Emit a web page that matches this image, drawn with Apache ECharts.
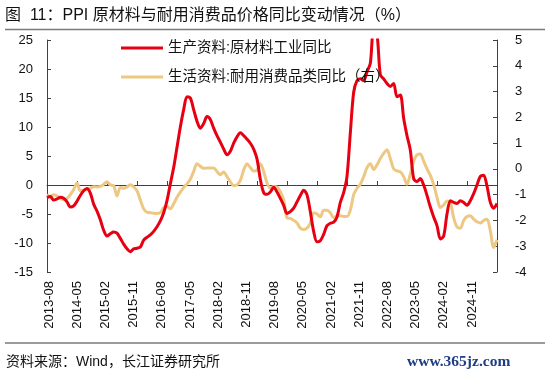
<!DOCTYPE html>
<html>
<head>
<meta charset="utf-8">
<script src="https://cdn.jsdelivr.net/npm/echarts@6/dist/echarts.min.js"></script>
<style>
html,body{margin:0;padding:0;background:#fff;}
#c{width:550px;height:381px;}
</style>
</head>
<body>
<div id="c"></div>
<script>
// ---- data ----
const startYear = 2013, startMonth = 8, monthCount = 136;
const months = [];
for (let k = 0; k < monthCount; k++) {
  const t = startMonth - 1 + k;
  const y = startYear + Math.floor(t / 12), m = t % 12 + 1;
  months.push(y + '-' + (m < 10 ? '0' + m : m));
}
const tickLabels = ['2013-08','2014-05','2015-02','2015-11','2016-08','2017-05','2018-02','2018-11','2019-08','2020-05','2021-02','2021-11','2022-08','2023-05','2024-02','2024-11'];

const seriesNames = ['生产资料:原材料工业同比', '生活资料:耐用消费品类同比（右）'];

// 生产资料:原材料工业同比 (left axis, %)
const rawMaterial = [
  -2.2, -2.0, -2.6, -2.4, -2.1, -2.3, -2.9, -3.8, -3.6, -2.8,
  -1.8, -1.0, -0.6, -1.4, -3.3, -4.5, -6.0, -7.8, -8.8, -8.4,
  -8.1, -8.3, -9.2, -10.2, -11.0, -11.5, -11.0, -10.9, -10.7, -9.5,
  -9.0, -8.6, -8.0, -7.2, -6.2, -4.8, -2.7, 0.2, 3.0, 6.5,
  10.0, 13.0, 15.2, 15.0, 13.0, 11.0, 9.8, 10.6, 11.8, 11.3,
  9.8, 8.5, 7.4, 6.2, 5.2, 5.8, 7.2, 8.3, 9.0, 8.5,
  7.9, 7.2, 6.2, 4.5, 1.0, -1.3, -1.6, -1.2, -0.4, -1.2,
  -2.3, -3.5, -4.9, -4.6, -4.0, -2.9, -1.8, -0.9, -1.7, -4.6,
  -8.0, -9.8, -9.6, -8.5, -7.0, -6.6, -6.4, -5.5, -3.0, -1.3,
  1.5, 9.0, 16.0, 18.0, 18.3, 18.0, 19.5, 21.0, 27.0, 26.0,
  19.0, 18.3, 17.5, 17.0, 17.5, 15.2, 15.5, 11.5, 8.5, 6.0,
  1.1, 0.6, 1.1, 0.0, -1.8, -3.8, -5.5, -7.0, -9.3, -8.8,
  -5.0, -2.7, -3.0, -3.2, -2.7, -3.0, -3.5, -2.7, -1.5, 0.0,
  1.5, 1.7, -0.2, -3.0, -4.0, -3.2
];

// 生活资料:耐用消费品类同比 (right axis, %)
const durableGoods = [
  -1.0, -1.07, -1.0, -1.05, -1.14, -1.2, -1.15, -1.0, -0.8, -0.55,
  -0.85, -0.82, -0.8, -0.75, -0.69, -0.7, -0.68, -0.6, -0.5, -0.62,
  -0.65, -1.05, -0.72, -0.75, -0.7, -0.62, -0.7, -0.85, -1.2, -1.55,
  -1.68, -1.7, -1.72, -1.73, -1.7, -1.5, -1.45, -1.55, -1.35, -1.1,
  -0.9, -0.72, -0.58, -0.4, -0.1, 0.2, 0.1, 0.02, 0.03, 0.03,
  0.03, -0.1, -0.23, -0.12, -0.3, -0.5, -0.65, -0.62, -0.45, -0.05,
  0.2, 0.05, -0.08, -0.05, 0.2, -0.1, -0.55, -0.75, -0.68, -0.7,
  -0.88, -1.2, -1.9, -1.92, -2.0, -2.1, -2.3, -2.35, -2.3, -2.1,
  -1.7, -1.75, -1.86, -1.6, -1.6, -1.7, -1.9, -1.82, -1.82, -1.85,
  -1.85, -1.6, -1.0, -0.75, -0.6, -0.3, 0.05, 0.2, -0.02, 0.15,
  0.4, 0.6, 0.74, 0.4, 0.0, -0.08, -0.12, -0.3, -0.6, -0.2,
  0.3, 0.55, 0.58, 0.3, 0.0, -0.25, -0.6, -1.1, -1.5, -1.4,
  -1.25, -1.3, -1.9, -2.25, -2.3, -2.0, -1.85, -1.82, -1.95, -2.05,
  -2.1, -2.0, -1.95, -2.4, -3.05, -2.75
];

// ---- chart ----
const FONT = "'Liberation Sans', 'Noto Sans CJK SC', sans-serif";
const chart = echarts.init(document.getElementById('c'), null, {renderer: 'canvas'});
const axisColor = '#404040';

chart.setOption({
  animation: false,
  backgroundColor: '#fff',
  textStyle: {fontFamily: FONT},
  title: [
    {text: '图  11：PPI 原材料与耐用消费品价格同比变动情况（%）', left: 5, top: 8, padding: 0,
     textStyle: {fontSize: 16, fontWeight: 'normal', color: '#111', fontFamily: FONT}},
    {text: '资料来源：Wind，长江证券研究所', left: 6, top: 355, padding: 0,
     textStyle: {fontSize: 14, fontWeight: 'normal', color: '#111', fontFamily: FONT}},
    {text: 'www.365jz.com', left: 407, top: 354, padding: 0,
     textStyle: {fontSize: 15.5, fontWeight: 'bold', color: '#1f3c88', fontFamily: "'Liberation Serif', serif"}}
  ],
  graphic: [
    {type: 'line', shape: {x1: 5, y1: 29.5, x2: 545, y2: 29.5}, style: {stroke: '#7a7a7a', lineWidth: 1.5}},
    {type: 'line', shape: {x1: 5, y1: 343, x2: 545, y2: 343}, style: {stroke: '#7a7a7a', lineWidth: 1.5}}
  ],
  legend: {
    data: seriesNames, orient: 'vertical', left: 121, top: 40, padding: 0,
    icon: 'rect', itemWidth: 42, itemHeight: 3, itemGap: 13,
    textStyle: {fontSize: 14.5, lineHeight: 16, color: '#111', fontFamily: FONT}
  },
  grid: [
    {left: 47, right: 53, top: 40, bottom: 109, containLabel: false},
    {left: 49, right: 78, top: 40, bottom: 109, containLabel: false}
  ],
  xAxis: [
    {
      type: 'category', gridIndex: 0, data: months, boundaryGap: false,
      axisLine: {show: true, onZero: true, lineStyle: {color: axisColor, width: 1}},
      axisTick: {show: true, inside: true, length: 4, interval: 8, lineStyle: {color: axisColor}},
      axisLabel: {show: false},
      splitLine: {show: false}
    },
    {
      type: 'category', gridIndex: 1, data: tickLabels, boundaryGap: false,
      axisLine: {show: false}, axisTick: {show: false},
      axisLabel: {show: true, interval: 0, rotate: 90, margin: 9, fontSize: 13, color: '#111', fontFamily: FONT},
      splitLine: {show: false}
    }
  ],
  yAxis: [
    {
      type: 'value', gridIndex: 0, position: 'left', min: -15, max: 25, interval: 5,
      axisLine: {show: true, lineStyle: {color: axisColor}},
      axisTick: {show: true, inside: true, length: 4, lineStyle: {color: axisColor}},
      axisLabel: {fontSize: 13, color: '#111', margin: 14, fontFamily: FONT},
      splitLine: {show: false}
    },
    {
      type: 'value', gridIndex: 0, position: 'right', min: -4, max: 5, interval: 1,
      axisLine: {show: true, onZero: false, lineStyle: {color: axisColor}},
      axisTick: {show: true, inside: true, length: 4, lineStyle: {color: axisColor}},
      axisLabel: {fontSize: 13, color: '#111', margin: 18, fontFamily: FONT},
      splitLine: {show: false}
    },
    {type: 'value', gridIndex: 1, min: 0, max: 1, show: false}
  ],
  series: [
    {
      name: seriesNames[1], type: 'line', xAxisIndex: 0, yAxisIndex: 1,
      data: durableGoods, symbol: 'none', smooth: 0.3,
      lineStyle: {color: '#EDC882', width: 3}, itemStyle: {color: '#EDC882'}
    },
    {
      name: seriesNames[0], type: 'line', xAxisIndex: 0, yAxisIndex: 0,
      data: rawMaterial, symbol: 'none', smooth: 0.3, clip: true,
      lineStyle: {color: '#E60012', width: 3}, itemStyle: {color: '#E60012'}
    }
  ]
});
</script>
</body>
</html>
